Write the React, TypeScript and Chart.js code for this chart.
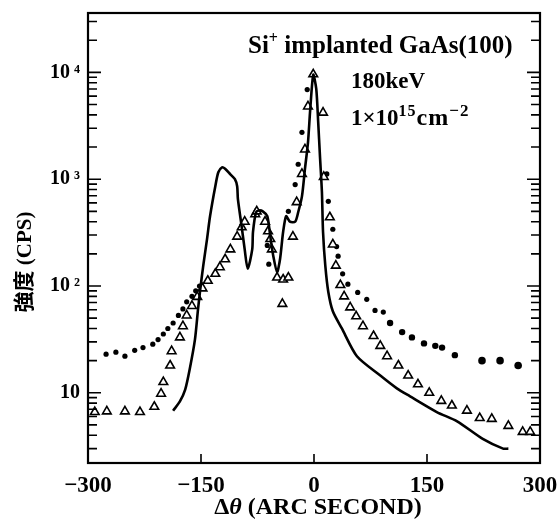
import React, { useEffect, useRef } from "react";
import { Chart, registerables } from "chart.js";
Chart.register(...registerables);

// Solid line (curve)
const solidX = [-187, -178, -171, -165, -158, -154, -151, -147, -142, -138, -131, -127, -122, -118, -111, -105, -102, -101, -96, -92, -88, -82, -81, -77, -73, -68, -62, -58, -54, -49, -45, -41, -37, -32, -25, -21, -16, -12, -8, -5, -1, 3, 5.5, 8, 10.5, 12, 15, 19, 25, 37, 57, 88, 110, 127, 163, 190, 224, 251, 258];
const solidY = [6.8, 8.3, 10.7, 16.6, 31.6, 60, 93, 155, 275, 450, 860, 1160, 1290, 1250, 1110, 1000, 860, 650, 360, 220, 145, 220, 320, 490, 510, 500, 450, 290, 190, 135, 180, 320, 450, 400, 400, 490, 690, 1250, 2200, 4500, 9500, 7000, 3500, 1600, 760, 320, 155, 88, 58, 40, 22, 14.5, 11, 9.3, 6.6, 5.4, 3.7, 3.0, 3.0];

// Open triangles
const triX = [-291, -275, -251, -231, -212, -203, -200, -191, -189, -178, -174, -169, -162, -155, -148, -141, -131, -125, -118, -111, -102, -96, -92, -78, -76, -65, -61, -58, -56, -49, -42, -41, -34, -28, -23, -16, -12, -8, -1, 12, 13, 21, 25, 29, 35, 40, 48, 56, 65, 79, 88, 97, 112, 125, 138, 153, 169, 183, 203, 220, 236, 258, 277, 287];
const triY = [6.6, 6.7, 6.7, 6.6, 7.4, 9.8, 12.6, 18, 24.5, 33, 42, 53, 65, 79, 95, 112, 130, 150, 178, 220, 290, 355, 400, 470, 500, 400, 325, 275, 220, 120, 68, 115, 120, 290, 610, 1120, 1900, 4800, 9600, 4200, 1050, 440, 245, 155, 102, 80, 63, 52, 42, 34, 27.5, 22, 18, 14.5, 12, 10, 8.4, 7.6, 6.8, 5.8, 5.7, 4.9, 4.3, 4.3];

// Filled dots
const dotX = [-276, -263, -251, -238, -227, -214, -207, -200, -194, -187, -180, -174, -169, -162, -157, -152, -62, -60, -34, -25, -21, -16, -9, 17, 19, 25, 30, 32, 38, 45, 58, 70, 81, 92, 101, 117, 130, 146, 161, 170, 187, 223, 247, 271];
const dotY = [23, 24, 22, 25, 26.5, 28.5, 31.5, 35.5, 40, 45, 53, 61, 71, 80, 90, 100, 240, 160, 500, 890, 1380, 2750, 6900, 1120, 620, 340, 234, 190, 130, 104, 87, 75, 59, 57, 45, 37, 33, 29, 27.5, 26.5, 22.5, 20, 20, 18];

const xTicks = [-300, -150, 0, 150, 300];
const xTickLabels = ["\u2212300", "\u2212150", "0", "150", "300"];
const xInnerTicks = [-150, 0, 150];
const yTicks = [10, 100, 1000, 10000];
const yTickLabels = ["10", "10\u2009\u00B2", "10\u2009\u00B3", "10\u2009\u2074"];
const yMin = 2.2;
const yMax = 36000;

const SERIF = "'Liberation Serif', 'DejaVu Serif', serif";

type Run = { t: string; size: number; dy?: number; italic?: boolean; ls?: number };

function setRunFont(ctx: any, r: Run) {
  ctx.font = `${r.italic ? "italic " : ""}bold ${r.size}px ${SERIF}`;
  ctx.letterSpacing = `${r.ls || 0}px`;
}

function drawRuns(ctx: CanvasRenderingContext2D, runs: Run[], x: number, y: number, align: "left" | "center" = "left") {
  let w = 0;
  for (const r of runs) {
    setRunFont(ctx, r);
    w += ctx.measureText(r.t).width;
  }
  let cx = align === "center" ? x - w / 2 : x;
  for (const r of runs) {
    setRunFont(ctx, r);
    ctx.fillText(r.t, cx, y + (r.dy || 0));
    cx += ctx.measureText(r.t).width;
  }
  (ctx as any).letterSpacing = "0px";
}

const decorPlugin = {
  id: "decor",
  afterDraw(chart: any) {
    const ctx: CanvasRenderingContext2D = chart.ctx;
    const { left, right, top, bottom } = chart.chartArea;
    const ys = chart.scales.y;
    const xs = chart.scales.x;
    ctx.save();
    ctx.strokeStyle = "#000";
    ctx.fillStyle = "#000";
    ctx.lineWidth = 2.2;
    ctx.strokeRect(left, top, right - left, bottom - top);
    ctx.lineWidth = 1.6;
    ctx.beginPath();
    for (let d = 0; d <= 4; d++) {
      for (let m = 1; m <= 9; m++) {
        const v = m * Math.pow(10, d);
        if (v < yMin || v > yMax) continue;
        const py = ys.getPixelForValue(v);
        const len = m === 1 ? 13 : 9;
        ctx.moveTo(left, py);
        ctx.lineTo(left + len, py);
        ctx.moveTo(right, py);
        ctx.lineTo(right - len, py);
      }
    }
    for (const v of xInnerTicks) {
      const px = xs.getPixelForValue(v);
      ctx.moveTo(px, bottom);
      ctx.lineTo(px, bottom - 9);
    }
    ctx.stroke();

    ctx.textBaseline = "alphabetic";
    ctx.textAlign = "left";
    drawRuns(ctx, [
      { t: "Si", size: 25 },
      { t: "+", size: 16, dy: -10 },
      { t: " implanted GaAs(100)", size: 25 },
    ], 248, 53);
    drawRuns(ctx, [{ t: "180keV", size: 23 }], 351, 88);
    drawRuns(ctx, [
      { t: "1\u00D710", size: 23 },
      { t: "15", size: 16, dy: -9, ls: 1 },
      { t: "cm", size: 24, ls: 1 },
      { t: "\u22122", size: 17, dy: -9, ls: 1 },
    ], 351, 125);

    drawRuns(ctx, [
      { t: "\u0394", size: 24 },
      { t: "\u03B8", size: 24, italic: true },
      { t: " (ARC SECOND)", size: 24 },
    ], 318, 514, "center");

    ctx.translate(31, 262);
    ctx.rotate(-Math.PI / 2);
    const a = "\u5F37\u5EA6";
    ctx.font = `bold 21px 'Noto Sans CJK JP'`;
    const wa = ctx.measureText(a).width;
    ctx.font = `bold 21px ${SERIF}`;
    const wb = ctx.measureText(" (CPS)").width;
    const sx = -(wa + wb) / 2;
    ctx.font = `bold 21px 'Noto Sans CJK JP'`;
    ctx.fillText(a, sx, 0);
    ctx.font = `bold 21px ${SERIF}`;
    ctx.fillText(" (CPS)", sx + wa, 0);
    ctx.restore();
  },
};

export default function App() {
  const ref = useRef<HTMLCanvasElement | null>(null);
  useEffect(() => {
    document.body.style.margin = "0";
    const canvas = ref.current;
    if (!canvas) return;
    const solid = solidX.map((x, i) => ({ x, y: solidY[i] }));
    const tri = triX.map((x, i) => ({ x, y: triY[i] }));
    const dots = dotX.map((x, i) => ({ x, y: dotY[i] }));
    const chart = new Chart(canvas, {
      type: "scatter",
      data: {
        datasets: [
          {
            label: "solid",
            data: solid,
            showLine: true,
            borderColor: "#000",
            borderWidth: 2.6,
            pointRadius: 0,
            tension: 0.25,
            fill: false,
          },
          {
            label: "triangles",
            data: tri,
            showLine: false,
            pointStyle: "triangle",
            pointRadius: 5,
            pointBorderWidth: 1.6,
            pointBorderColor: "#000",
            pointBackgroundColor: "#fff",
          },
          {
            label: "dots",
            data: dots,
            showLine: false,
            pointStyle: "circle",
            pointRadius: (c: any) => {
              const x = c.raw ? c.raw.x : 0;
              return x > 200 ? 3.8 : x > 100 ? 3.2 : 2.6;
            },
            pointBorderWidth: 0,
            pointBackgroundColor: "#000",
          },
        ],
      } as any,
      options: {
        animation: false,
        responsive: false,
        layout: { padding: { top: 13, right: 17, left: 0, bottom: 0 } },
        plugins: { legend: { display: false }, tooltip: { enabled: false } },
        scales: {
          x: {
            type: "linear",
            min: -300,
            max: 300,
            afterBuildTicks: (s: any) => {
              s.ticks = xTicks.map((v) => ({ value: v }));
            },
            afterFit: (s: any) => {
              s.height = 58;
              s.paddingLeft = 0;
              s.paddingRight = 0;
            },
            ticks: {
              autoSkip: false,
              maxRotation: 0,
              padding: 9,
              color: "#000",
              font: { family: SERIF, size: 23, weight: "bold" },
              callback: (v: any) => xTickLabels[xTicks.indexOf(Number(v))] ?? "",
            },
            grid: { display: false, drawTicks: false },
            border: { display: false },
          },
          y: {
            type: "logarithmic",
            min: yMin,
            max: yMax,
            afterBuildTicks: (s: any) => {
              s.ticks = yTicks.map((v) => ({ value: v }));
            },
            afterFit: (s: any) => {
              s.width = 88;
              s.paddingTop = 0;
              s.paddingBottom = 0;
            },
            ticks: {
              autoSkip: false,
              padding: 8,
              color: "#000",
              font: { family: SERIF, size: 20, weight: "bold" },
              callback: (v: any) => yTickLabels[yTicks.indexOf(Number(v))] ?? "",
            },
            grid: { display: false, drawTicks: false },
            border: { display: false },
          },
        },
      } as any,
      plugins: [decorPlugin],
    });
    return () => chart.destroy();
  }, []);
  return (
    <div style={{ width: 557, height: 521 }}>
      <canvas ref={ref} width={557} height={521} style={{ display: "block" }} />
    </div>
  );
}
